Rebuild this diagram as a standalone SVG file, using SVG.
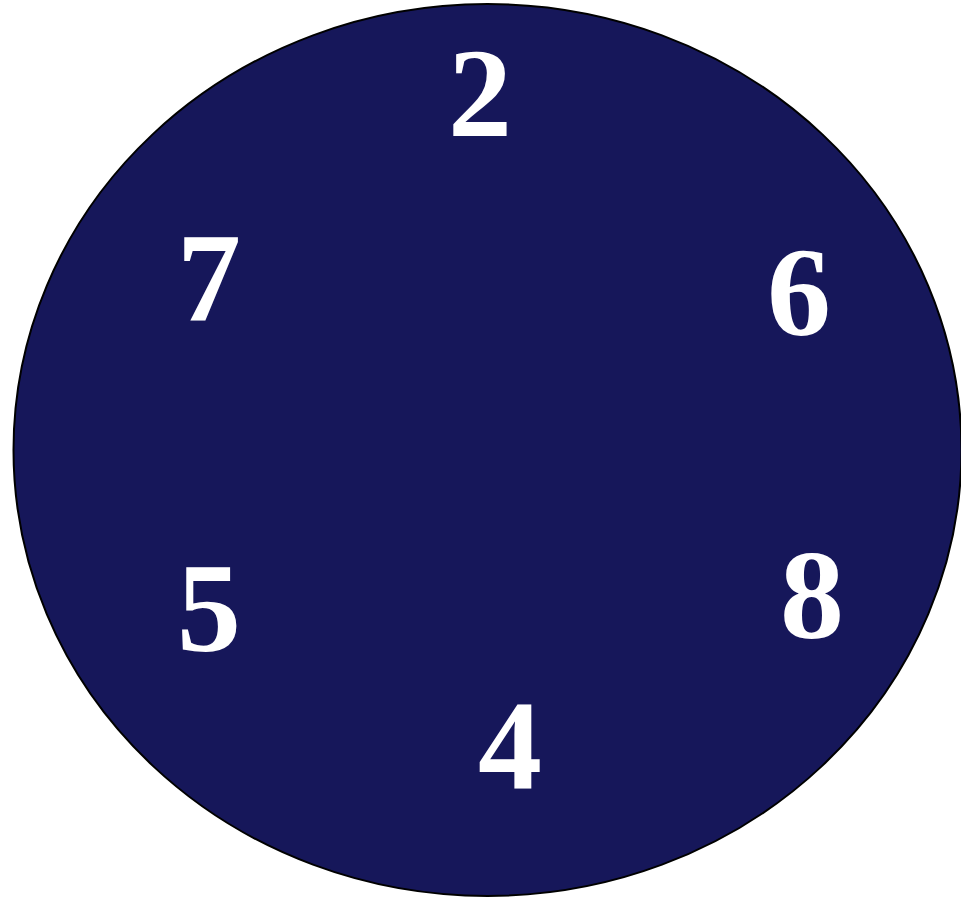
<svg xmlns="http://www.w3.org/2000/svg" width="961" height="898" viewBox="0 0 961 898">
<style>
.n{font-family:"Liberation Serif","Times New Roman",serif;font-weight:bold;font-size:128px;fill:#ffffff;text-anchor:middle}
</style>
<rect width="961" height="898" fill="#ffffff"/>
<g id="circle"><ellipse cx="487.5" cy="450" rx="474" ry="446" fill="#16175a" stroke="#000000" stroke-width="2"/></g>
<g id="n2"><text class="n" x="480" y="136">2</text></g>
<g id="n7"><text class="n" x="209" y="321">7</text></g>
<g id="n6"><text class="n" x="799" y="335">6</text></g>
<g id="n5"><text class="n" x="209" y="651">5</text></g>
<g id="n8"><text class="n" x="812" y="638">8</text></g>
<g id="n4"><text class="n" x="510" y="788">4</text></g>
</svg>
